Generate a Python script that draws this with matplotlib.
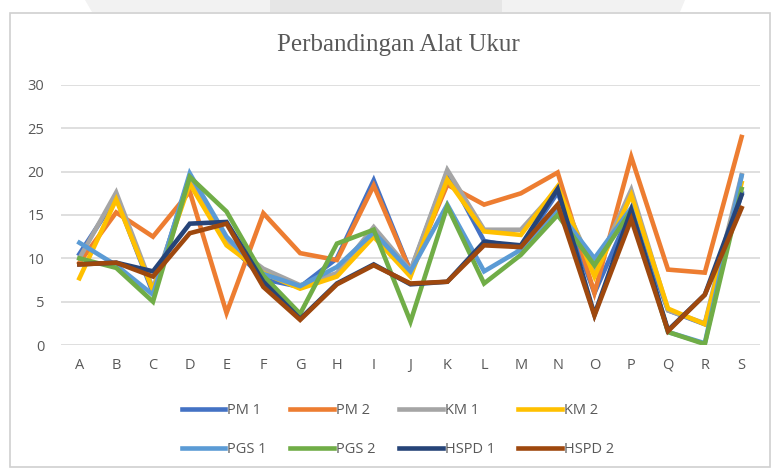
import matplotlib
matplotlib.use("Agg")
import matplotlib.pyplot as plt
from matplotlib.patches import Rectangle, Polygon

categories = list("ABCDEFGHIJKLMNOPQRS")

pm1 = [10.5, 17.0, 6.0, 19.5, 12.0, 7.6, 6.7, 10.0, 19.0, 8.5, 20.0, 12.0, 11.2, 17.6, 6.0, 15.6, 4.0, 2.4, 17.5]
pm2 = [9.5, 15.3, 12.5, 17.7, 3.7, 15.2, 10.6, 9.8, 18.4, 8.5, 18.5, 16.2, 17.5, 19.9, 6.0, 21.7, 8.7, 8.35, 24.0]
km1 = [10.0, 17.6, 6.5, 19.0, 12.0, 8.8, 6.9, 8.3, 13.6, 8.6, 20.2, 13.3, 13.3, 18.0, 8.5, 17.9, 4.0, 2.5, 19.6]
km2 = [7.7, 16.8, 6.3, 18.6, 11.5, 8.3, 6.5, 7.9, 12.5, 7.9, 19.1, 13.1, 12.7, 18.3, 7.9, 17.3, 4.2, 2.4, 18.7]
pgs1 = [11.8, 9.2, 5.8, 19.8, 12.5, 8.2, 6.8, 9.0, 13.0, 8.5, 16.2, 8.5, 11.0, 15.5, 10.0, 15.8, 1.5, 0.2, 19.5]
pgs2 = [10.0, 8.9, 5.0, 19.4, 15.4, 8.0, 3.6, 11.7, 13.3, 2.7, 16.0, 7.1, 10.4, 15.0, 9.2, 15.5, 1.5, 0.1, 18.0]
hspd1 = [9.3, 9.5, 8.5, 14.0, 14.2, 7.3, 3.0, 7.1, 9.3, 7.0, 7.3, 11.9, 11.5, 18.0, 3.5, 15.6, 1.7, 5.8, 17.3]
hspd2 = [9.3, 9.5, 7.9, 12.9, 14.0, 6.7, 2.9, 7.0, 9.2, 7.1, 7.3, 11.5, 11.3, 16.2, 3.4, 14.5, 1.6, 5.8, 15.8]

series_names = ["PM 1", "PM 2", "KM 1", "KM 2", "PGS 1", "PGS 2", "HSPD 1", "HSPD 2"]
series_vals = [pm1, pm2, km1, km2, pgs1, pgs2, hspd1, hspd2]
colors = ["#4472C4", "#ED7D31", "#A5A5A5", "#FFC000", "#5B9BD5", "#70AD47", "#264478", "#9E480E"]
yticks = [0, 5, 10, 15, 20, 25, 30]

W, H = 772, 469
fig = plt.figure(figsize=(W / 100, H / 100), dpi=100)
fig.patch.set_facecolor("white")

def fx(px):
    return px / W

def fy(py):
    return 1 - py / H

# faint band at top
fig.patches.append(Polygon([(fx(85), fy(0)), (fx(270), fy(0)), (fx(270), fy(12)), (fx(92), fy(12))],
                           closed=True, transform=fig.transFigure, facecolor="#f2f2f2", edgecolor="none", zorder=-1))
fig.patches.append(Rectangle((fx(270), fy(12)), fx(502) - fx(270), fy(0) - fy(12),
                             transform=fig.transFigure, facecolor="#e6e6e6", edgecolor="none", zorder=-1))
fig.patches.append(Polygon([(fx(502), fy(0)), (fx(685), fy(0)), (fx(680), fy(12)), (fx(502), fy(12))],
                           closed=True, transform=fig.transFigure, facecolor="#f2f2f2", edgecolor="none", zorder=-1))
# chart frame
fig.patches.append(Rectangle((fx(10), fy(467)), fx(770) - fx(10), fy(13) - fy(467),
                             transform=fig.transFigure, facecolor="none", edgecolor="#d0d0d0",
                             linewidth=1.2, zorder=-1))

ax = fig.add_axes([fx(61), fy(345), fx(760) - fx(61), fy(85) - fy(345)])
ax.set_facecolor("none")
x = list(range(len(categories)))
handles = []
for name, vals, c in zip(series_names, series_vals, colors):
    ln, = ax.plot(x, vals, color=c, linewidth=3.3, label=name, solid_joinstyle="miter", zorder=3)
    handles.append(ln)

ax.set_xlim(-0.5, len(categories) - 0.5)
ax.set_ylim(0, 30)
ax.set_yticks(yticks)
ax.set_yticklabels([str(t) for t in yticks])
ax.set_xticks(x)
ax.set_xticklabels(categories)
ax.grid(axis="y", color="#d9d9d9", linewidth=1.2, zorder=0)
ax.set_axisbelow(True)
for s in ax.spines.values():
    s.set_visible(False)
ax.tick_params(axis="both", length=0, colors="#595959", labelsize=10.5)
ax.tick_params(axis="y", pad=12)
ax.tick_params(axis="x", pad=9)
for lab in ax.get_xticklabels() + ax.get_yticklabels():
    lab.set_fontfamily("Open Sans")

fig.text(fx(398), fy(45), "Perbandingan Alat Ukur", ha="center", va="center",
         fontsize=18, family="Liberation Serif", color="#595959")

# legend filled row-wise like Excel (matplotlib fills column-wise)
ncol = 4
order = []
for c in range(ncol):
    for r in range(2):
        order.append(r * ncol + c)
leg = fig.legend([handles[i] for i in order], [series_names[i] for i in order],
                 loc="center", ncol=ncol,
                 bbox_to_anchor=(fx(398), fy(430)), frameon=False,
                 handlelength=3.0, handletextpad=0.15, columnspacing=1.6,
                 labelspacing=1.7, prop={"family": "Open Sans", "size": 10.5})
for t in leg.get_texts():
    t.set_color("#595959")

fig.savefig("out.png", dpi=100, facecolor="white")
